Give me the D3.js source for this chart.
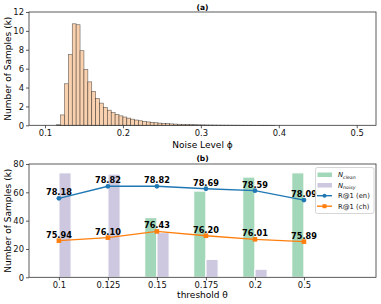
<!DOCTYPE html>
<html><head><meta charset="utf-8">
<script src="https://cdn.jsdelivr.net/npm/d3@7"></script>
<style>body{margin:0;background:#fff}svg{display:block;font-family:"DejaVu Sans",sans-serif}</style>
</head><body><svg id="c" width="381" height="304"></svg>
<script>
// ---- Data (a): histogram of noise level, bins of width 0.005 starting at 0.100
const binStart = 0.100;
const binWidth = 0.005;
const histCounts = [
  0,0,0,0.06,1.1,4.4,7.5,10.75,10.65,7.9,
  5.9,4.6,3.6,2.85,2.35,1.9,1.6,1.35,1.15,1.0,
  0.88,0.76,0.65,0.56,0.48,0.42,0.36,0.31,0.27,0.23,
  0.2,0.17,0.15,0.13,0.11,0.09,0.08,0.07,0.06,0.05,
  0.04,0.035,0.03,0.025,0.02,0.018,0.015,0.012,0.01,0.008,
  0.006,0.005,0.004,0.003,0.002,0.002,0.001,0.001,0.001,0,
  0,0,0,0,0,0,0,0,0,0,
  0,0,0,0,0,0,0,0,0,0,0
];
const histXTicks = [0.1,0.2,0.3,0.4,0.5];
const histYTicks = [0,2,4,6,8,10,12];

// ---- Data (b)
const thresholds = ["0.1","0.125","0.15","0.175","0.2","0.5"];
const nClean = [0,0.6,42.2,60.9,70.8,73.8];
const nNoisy = [73.8,72.9,31.6,12.7,5.7,0];
const r1En = [78.18,78.82,78.82,78.69,78.59,78.09];
const r1Ch = [75.94,76.10,76.43,76.20,76.01,75.89];
const bYTicks = [0,20,40,60,80];

const svg = d3.select("#c");
const L = 29, R = 376;
const tickFont = 8.4, labelFont = 9;

function frame(g, top, bottom){
  g.append("rect").attr("x",L).attr("y",top).attr("width",R-L).attr("height",bottom-top)
   .attr("fill","none").attr("stroke","#333").attr("stroke-width",0.8);
}
function styleAxis(a){
  a.select(".domain").remove();
  a.selectAll(".tick line").attr("stroke","#333").attr("stroke-width",0.8);
  a.selectAll(".tick text").attr("font-size",tickFont).attr("fill","#111").attr("font-family","DejaVu Sans");
}

// ===== Panel (a)
const aTop = 12, aBot = 125.3;
const xa = d3.scaleLinear().domain([0.0795,0.5247]).range([L,R]);
const ya = d3.scaleLinear().domain([0,12]).range([aBot,aTop]);
const ga = svg.append("g");
ga.selectAll("rect.bar").data(histCounts).join("rect").attr("class","bar")
  .attr("x",(d,i)=>xa(binStart+i*binWidth))
  .attr("width",(d,i)=>xa(binStart+(i+1)*binWidth)-xa(binStart+i*binWidth))
  .attr("y",d=>ya(d)).attr("height",d=>ya(0)-ya(d))
  .attr("fill","#f9d1af").attr("stroke","#000").attr("stroke-opacity",0.6).attr("stroke-width",0.6);
frame(ga,aTop,aBot);
const axA = ga.append("g").attr("transform",`translate(0,${aBot})`)
  .call(d3.axisBottom(xa).tickValues(histXTicks).tickSize(3).tickPadding(2).tickFormat(d3.format("")));
styleAxis(axA);
const ayA = ga.append("g").attr("transform",`translate(${L},0)`)
  .call(d3.axisLeft(ya).tickValues(histYTicks).tickSize(3).tickPadding(2));
styleAxis(ayA);
ga.append("text").attr("x",(L+R)/2).attr("y",148).attr("text-anchor","middle").attr("font-size",labelFont).text("Noise Level ϕ");
ga.append("text").attr("transform",`translate(11,${(aTop+aBot)/2}) rotate(-90)`).attr("text-anchor","middle").attr("font-size",labelFont).text("Number of Samples (k)");
ga.append("text").attr("x",(L+R)/2).attr("y",9.5).attr("text-anchor","middle").attr("font-size",7.5).attr("font-weight","bold").text("(a)");

// ===== Panel (b)
const bTop = 164, bBot = 277.3;
const xb = d3.scaleLinear().domain([-0.61,6.47]).range([L,R]);
const yb = d3.scaleLinear().domain([0,80]).range([bBot,bTop]);
const rScale = d3.scaleLinear().domain([74,80]).range([0,80]); // R@1 mapped onto count axis
const bw = 0.25;
const gb = svg.append("g");
gb.selectAll("rect.cl").data(nClean).join("rect").attr("class","cl")
  .attr("x",(d,i)=>xb(i-bw)).attr("width",xb(bw)-xb(0))
  .attr("y",d=>yb(d)).attr("height",d=>yb(0)-yb(d))
  .attr("fill","#a3d7b9").attr("stroke","#fff").attr("stroke-width",1.2);
gb.selectAll("rect.no").data(nNoisy).join("rect").attr("class","no")
  .attr("x",(d,i)=>xb(i)).attr("width",xb(bw)-xb(0))
  .attr("y",d=>yb(d)).attr("height",d=>yb(0)-yb(d))
  .attr("fill","#cdc8e0").attr("stroke","#fff").attr("stroke-width",1.2);

const line = d3.line().x((d,i)=>xb(i)).y(d=>yb(rScale(d)));
gb.append("path").datum(r1En).attr("d",line).attr("fill","none").attr("stroke","#1f77b4").attr("stroke-width",1.4);
gb.append("path").datum(r1Ch).attr("d",line).attr("fill","none").attr("stroke","#ff7f0e").attr("stroke-width",1.4);
gb.selectAll("circle.en").data(r1En).join("circle").attr("class","en")
  .attr("cx",(d,i)=>xb(i)).attr("cy",d=>yb(rScale(d))).attr("r",2.4).attr("fill","#1f77b4");
gb.selectAll("rect.ch").data(r1Ch).join("rect").attr("class","ch")
  .attr("x",(d,i)=>xb(i)-2.3).attr("y",d=>yb(rScale(d))-2.3).attr("width",4.6).attr("height",4.6).attr("fill","#ff7f0e");
[r1En,r1Ch].forEach(arr=>{
  gb.selectAll(null).data(arr).join("text")
    .attr("x",(d,i)=>xb(i)).attr("y",d=>yb(rScale(d))-3)
    .attr("text-anchor","middle").attr("font-size",8.2).attr("font-weight","bold").attr("fill","#000")
    .text(d=>d.toFixed(2));
});
frame(gb,bTop,bBot);
const axB = gb.append("g").attr("transform",`translate(0,${bBot})`)
  .call(d3.axisBottom(xb).tickValues(d3.range(thresholds.length)).tickSize(3).tickPadding(2).tickFormat(i=>thresholds[i]));
styleAxis(axB);
const ayB = gb.append("g").attr("transform",`translate(${L},0)`)
  .call(d3.axisLeft(yb).tickValues(bYTicks).tickSize(3).tickPadding(2));
styleAxis(ayB);
gb.append("text").attr("x",(L+R)/2).attr("y",298).attr("text-anchor","middle").attr("font-size",labelFont).text("threshold θ");
gb.append("text").attr("transform",`translate(11,${(bTop+bBot)/2}) rotate(-90)`).attr("text-anchor","middle").attr("font-size",labelFont).text("Number of Samples (k)");
gb.append("text").attr("x",(L+R)/2).attr("y",161).attr("text-anchor","middle").attr("font-size",7.5).attr("font-weight","bold").text("(b)");

// Legend
const lg = gb.append("g");
lg.append("rect").attr("x",315.5).attr("y",167.5).attr("width",58.5).attr("height",46).attr("rx",2)
  .attr("fill","#fff").attr("fill-opacity",0.8).attr("stroke","#ccc").attr("stroke-width",0.8);
const ly = [174.5,185,195.7,206.2];
lg.append("rect").attr("x",317.5).attr("y",ly[0]-2).attr("width",14.5).attr("height",4.5).attr("fill","#a3d7b9");
lg.append("rect").attr("x",317.5).attr("y",ly[1]-2).attr("width",14.5).attr("height",4.5).attr("fill","#cdc8e0");
lg.append("line").attr("x1",317).attr("x2",332).attr("y1",ly[2]).attr("y2",ly[2]).attr("stroke","#1f77b4").attr("stroke-width",1.4);
lg.append("circle").attr("cx",324.5).attr("cy",ly[2]).attr("r",2).attr("fill","#1f77b4");
lg.append("line").attr("x1",317).attr("x2",332).attr("y1",ly[3]).attr("y2",ly[3]).attr("stroke","#ff7f0e").attr("stroke-width",1.4);
lg.append("rect").attr("x",322.5).attr("y",ly[3]-2).attr("width",4).attr("height",4).attr("fill","#ff7f0e");
function subLabel(y,sub){
  const t = lg.append("text").attr("x",338).attr("y",y+2.5).attr("font-size",6.8).attr("fill","#111");
  t.append("tspan").attr("font-style","italic").text("N");
  t.append("tspan").attr("font-style","italic").attr("font-size",4.7).attr("dy",1.5).text(sub);
}
subLabel(ly[0],"clean");
subLabel(ly[1],"noisy");
lg.append("text").attr("x",338).attr("y",ly[2]+2.5).attr("font-size",6.8).attr("fill","#111").text("R@1 (en)");
lg.append("text").attr("x",338).attr("y",ly[3]+2.5).attr("font-size",6.8).attr("fill","#111").text("R@1 (ch)");
</script></body></html>
